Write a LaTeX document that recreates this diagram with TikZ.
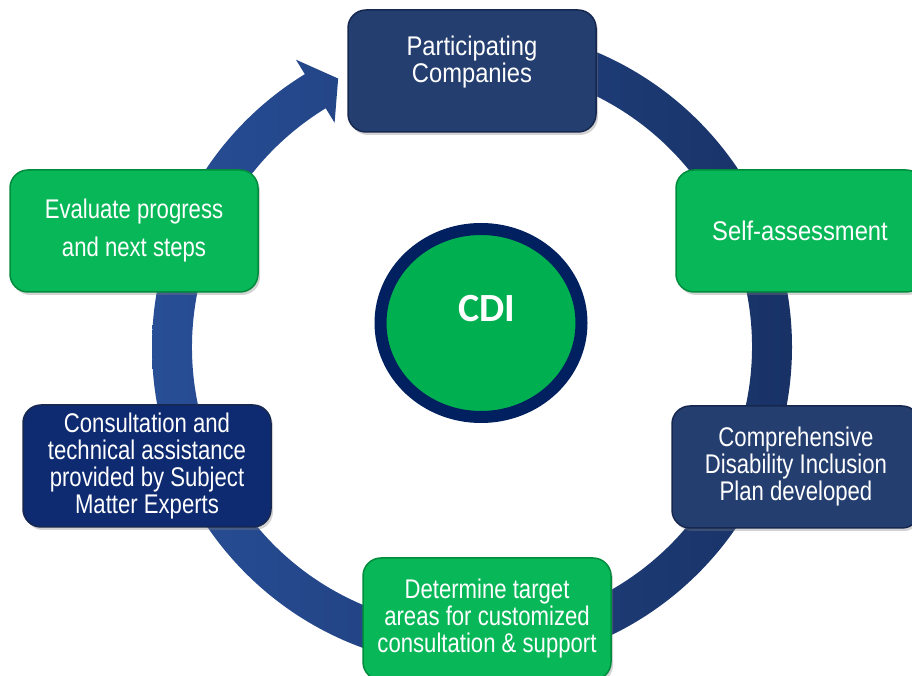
\documentclass[tikz,border=0pt]{standalone}
\usepackage{fontspec}
\setmainfont{Liberation Sans}[FakeStretch=0.82]
\newfontfamily\widefont{Liberation Sans}[FakeStretch=0.88]
\newfontfamily\cdifont{Carlito}
\usetikzlibrary{shapes.geometric,shadows,calc}
\definecolor{boxgreen}{RGB}{8,184,88}
\definecolor{boxgreenedge}{RGB}{0,140,60}
\definecolor{boxnavy}{RGB}{36,62,112}
\definecolor{boxnavyedge}{RGB}{22,40,80}
\definecolor{boxdeep}{RGB}{14,42,112}
\definecolor{ringleft}{RGB}{40,78,150}
\definecolor{ringright}{RGB}{24,50,102}
\definecolor{cdigreen}{RGB}{0,176,80}
\definecolor{cdinavy}{RGB}{0,32,96}

\begin{document}
\begin{tikzpicture}[x=1pt,y=1pt]
		\tikzstyle{stage}=[draw,
			rounded corners=18pt,
			line width=1.5pt,
			text=white,
			minimum width=248pt,
			minimum height=122pt,
			align=center,
			font=\fontsize{27}{27}\selectfont,
			drop shadow={shadow xshift=2pt,shadow yshift=-3pt,opacity=.35},
			];
		\tikzstyle{greenbox}=[stage,fill=boxgreen,draw=boxgreenedge];
		\tikzstyle{navybox}=[stage,fill=boxnavy,draw=boxnavyedge];
		\tikzstyle{deepbox}=[stage,fill=boxdeep,draw=boxnavyedge];

		\useasboundingbox (0,0) rectangle (912,676);

		% ring arrow
		\coordinate (c) at (472,329);
		\shade[left color=ringleft,right color=ringright]
			($(c)+(90:320)$) arc[start angle=90,end angle=-238.5,radius=320]
			-- ($(c)+(121.5:337)$) -- ($(c)+(116.5:300)$) -- ($(c)+(121.5:263)$)
			-- ($(c)+(121.5:280)$) arc[start angle=-238.5,end angle=90,radius=280]
			-- cycle;

		% centre
		\node [ellipse,draw=cdinavy,line width=12pt,fill=cdigreen,text=white]
			at (481,353) [minimum width=201pt,minimum height=188pt,text depth=30pt,
			font=\cdifont\bfseries\fontsize{40}{40}\selectfont] (cdi) {\hspace*{12pt}CDI};

		% stages
		\node [navybox] at (472,605) (part) {};
		\node [text=white,align=center,font=\widefont\fontsize{27}{25}\selectfont]
			at ([yshift=9pt]part.center) (partlabel) {Participating\\Companies};
		\node [greenbox,font=\widefont\fontsize{27}{27}\selectfont] at (800,445) (self) {Self-assessment};
		\node [navybox] at (796,209) (plan) {Comprehensive\\Disability Inclusion\\Plan developed};
		\node [greenbox] at (487,57) (target) {Determine target\\areas for customized\\consultation \& support};
		\node [deepbox] at (147,210) (experts) {Consultation and\\technical assistance\\provided by Subject\\Matter Experts};
		\node [greenbox,font=\fontsize{27}{38}\selectfont] at (134,445) (review) {Evaluate progress\\and next steps};
	\end{tikzpicture}
\end{document}
